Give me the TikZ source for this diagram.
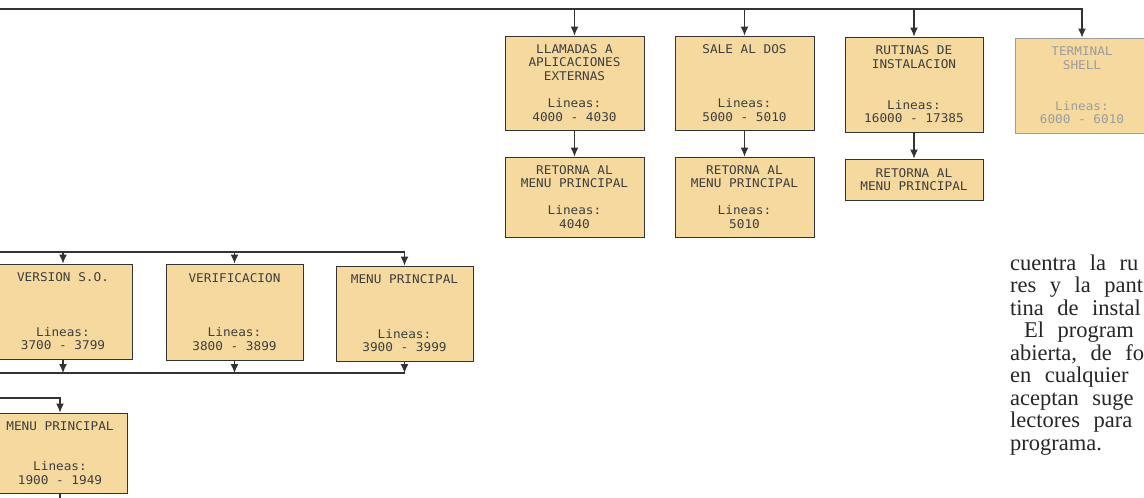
\documentclass[tikz,border=0pt]{standalone}
\usepackage{fontspec}
\usepackage{tikz}
\usetikzlibrary{arrows.meta}
\newfontfamily\fuenteCaja[FakeStretch=1.06]{DejaVu Sans Mono}
\newfontfamily\fuenteTexto[WordSpace=2.4]{Liberation Serif}
\definecolor{crema}{HTML}{F6D99E}
\definecolor{borde}{HTML}{333333}
\definecolor{tinta}{HTML}{3E3E3E}
\definecolor{palido}{HTML}{9C9C9C}
\tikzset{
  caja/.style={draw=borde,fill=crema,line width=1pt,text=tinta,align=center,
    font=\fuenteCaja\fontsize{12}{13.6}\selectfont,inner sep=0pt,
    minimum width=139pt,minimum height=94pt},
  flecha/.style={draw=borde,line width=1.1pt,-{Latex[length=9pt,width=8pt]}},
  linea/.style={draw=borde,line width=1.1pt},
  parrafo/.style={anchor=base west,inner sep=0pt,text=black!85,
    font=\fuenteTexto\fontsize{22.5}{25.5}\selectfont}
}

\begin{document}
\begin{tikzpicture}[x=1pt,y=-1pt]
  \useasboundingbox (0,0) rectangle (1144,498);
  \clip (0,0) rectangle (1144,498);
  \node[caja] (llamadas) at (574.5,83) {LLAMADAS A\\APLICACIONES\\EXTERNAS\\~\\Lineas:\\4000 - 4030};
  \node[caja] (sale) at (744.5,83) {SALE AL DOS\\~\\~\\~\\Lineas:\\5000 - 5010};
  \node[caja,minimum width=138pt,minimum height=95pt] (rutinas) at (914,84.5) {RUTINAS DE\\INSTALACION\\~\\~\\Lineas:\\16000 - 17385};
  \node[caja,minimum width=134pt,minimum height=95pt,text=palido,draw=palido] (terminal) at (1082,85.5) {TERMINAL\\SHELL\\~\\~\\Lineas:\\6000 - 6010};
  \node[caja,minimum height=80pt] (retornaA) at (574.5,197) {RETORNA AL\\MENU PRINCIPAL\\~\\Lineas:\\4040};
  \node[caja,minimum height=80pt] (retornaB) at (744.5,197) {RETORNA AL\\MENU PRINCIPAL\\~\\Lineas:\\5010};
  \node[caja,minimum width=138pt,minimum height=41pt] (retornaC) at (914,179.5) {RETORNA AL\\MENU PRINCIPAL};
  \node[caja,minimum width=138pt,minimum height=95pt] (version) at (63,311.5) {VERSION S.O.\\~\\~\\~\\Lineas:\\3700 - 3799};
  \node[caja,minimum width=137pt,minimum height=96pt] (verificacion) at (234.5,312) {VERIFICACION\\~\\~\\~\\Lineas:\\3800 - 3899};
  \node[caja,minimum width=137pt,minimum height=95pt] (menuA) at (404.5,313.5) {MENU PRINCIPAL\\~\\~\\~\\Lineas:\\3900 - 3999};
  \node[caja,minimum width=134pt,minimum height=80pt] (menuB) at (60,453) {MENU PRINCIPAL\\~\\~\\Lineas:\\1900 - 1949};
  \coordinate (inicioSup) at (0,9);
  \draw[flecha] (inicioSup) -| (terminal.north);
  \foreach \destino in {llamadas,sale,rutinas}
    \draw[flecha] (\destino.north |- inicioSup) -- (\destino.north);
  \draw[flecha] (llamadas.south) -- (retornaA.north);
  \draw[flecha] (sale.south) -- (retornaB.north);
  \draw[flecha] (rutinas.south) -- (retornaC.north);
  \coordinate (inicioMed) at (0,252);
  \draw[flecha] (inicioMed) -| (menuA.north);
  \foreach \destino in {version,verificacion}
    \draw[flecha] (\destino.north |- inicioMed) -- (\destino.north);
  \coordinate (cierreMed) at (0,373);
  \foreach \origen in {version,verificacion,menuA}
    \draw[flecha] (\origen.south) -- (\origen.south |- cierreMed);
  \draw[linea] (cierreMed) -- (menuA.south |- cierreMed);
  \coordinate (inicioInf) at (0,398);
  \draw[flecha] (inicioInf) -| (menuB.north);
  \coordinate (salidaInf) at (60,500);
  \draw[linea] (menuB.south) -- (salidaInf);
  \node[parrafo] (lineaA) at (1010,270) {cuentra la ru};
  \node[parrafo] (lineaB) at (1010,292.5) {res y la pant};
  \node[parrafo] (lineaC) at (1010,315) {tina de instal};
  \node[parrafo] (lineaD) at (1024,337.5) {El program};
  \node[parrafo] (lineaE) at (1010,360) {abierta, de fo};
  \node[parrafo] (lineaF) at (1010,382.5) {en cualquier};
  \node[parrafo] (lineaG) at (1010,405) {aceptan suge};
  \node[parrafo] (lineaH) at (1010,427.5) {lectores para};
  \node[parrafo] (lineaI) at (1010,450) {programa.};
\end{tikzpicture}
\end{document}
